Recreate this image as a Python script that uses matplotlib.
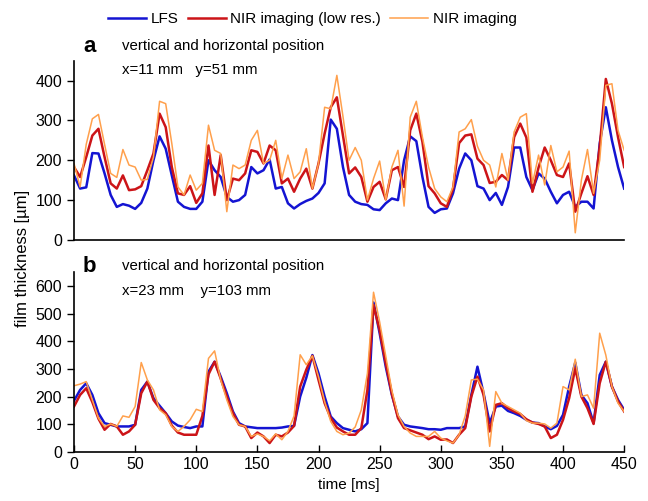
import numpy as np
import matplotlib
matplotlib.use("Agg")
import matplotlib.pyplot as plt

plt.rcParams['font.family'] = ['Liberation Sans', 'DejaVu Sans']

# tiempo [ms], muestreo cada 5 ms
tiempo = np.arange(0, 451, 5)

# Panel a: x=11 mm, y=51 mm
lfs_a = [162, 129, 132, 218, 217, 167, 113, 83, 90, 86, 78, 93, 129, 200, 260, 229, 162, 96, 83, 78,
         78, 96, 200, 175, 158, 108, 96, 100, 113, 183, 167, 175, 202, 129, 133, 92, 79, 90, 98, 104,
         118, 142, 302, 279, 183, 113, 96, 90, 88, 77, 75, 92, 104, 100, 200, 260, 248, 158, 83, 68,
         77, 79, 117, 179, 217, 200, 135, 129, 100, 118, 88, 133, 232, 232, 158, 125, 167, 154, 121, 92,
         113, 121, 83, 96, 96, 79, 242, 333, 250, 183, 129]
nir_low_a = [183, 158, 208, 262, 279, 208, 142, 129, 162, 125, 127, 135, 175, 217, 317, 283, 183, 117, 113, 135,
             93, 117, 237, 113, 213, 100, 154, 150, 167, 225, 221, 192, 237, 225, 142, 154, 121, 154, 179, 129,
             192, 267, 333, 358, 262, 167, 182, 158, 96, 133, 146, 102, 175, 183, 133, 275, 317, 246, 135, 117,
             92, 83, 129, 243, 262, 265, 204, 188, 143, 146, 163, 150, 258, 292, 257, 121, 182, 232, 200, 163,
             158, 192, 71, 117, 160, 113, 233, 404, 342, 258, 183]
nir_a = [192, 133, 240, 304, 315, 240, 167, 157, 227, 188, 183, 150, 152, 208, 348, 342, 242, 133, 113, 163,
         125, 142, 288, 225, 217, 71, 188, 179, 188, 250, 275, 192, 200, 250, 154, 213, 154, 171, 229, 129,
         192, 333, 329, 413, 310, 200, 232, 200, 100, 154, 198, 100, 183, 225, 85, 308, 348, 258, 183, 129,
         108, 96, 133, 271, 279, 302, 235, 200, 188, 133, 217, 150, 271, 308, 317, 142, 213, 138, 237, 171,
         183, 223, 18, 150, 227, 117, 200, 388, 392, 275, 225]

# Panel b: x=23 mm, y=103 mm
lfs_b = [185, 224, 248, 206, 140, 104, 98, 92, 92, 92, 98, 224, 254, 194, 167, 140, 110, 95, 90, 86,
         92, 92, 290, 326, 272, 212, 146, 104, 92, 89, 86, 86, 86, 86, 88, 92, 94, 200, 268, 350,
         284, 200, 128, 104, 86, 80, 74, 82, 104, 540, 429, 308, 206, 128, 98, 92, 89, 86, 82, 82,
         80, 86, 86, 86, 92, 206, 308, 212, 104, 164, 167, 148, 140, 130, 116, 106, 104, 92, 82, 94,
         134, 236, 323, 206, 176, 104, 278, 326, 236, 188, 152]
nir_low_b = [164, 206, 230, 180, 120, 80, 101, 92, 62, 74, 98, 212, 254, 188, 158, 140, 95, 70, 62, 62,
             62, 130, 280, 326, 265, 200, 140, 98, 92, 50, 70, 56, 32, 62, 56, 70, 94, 236, 297, 347,
             260, 176, 122, 88, 74, 62, 62, 86, 224, 531, 440, 320, 210, 122, 86, 78, 70, 62, 46, 56,
             44, 45, 32, 62, 86, 200, 272, 206, 74, 170, 176, 158, 146, 137, 118, 106, 101, 92, 50, 62,
             116, 194, 302, 200, 158, 101, 248, 326, 236, 182, 146]
nir_b = [239, 245, 254, 188, 122, 92, 101, 92, 130, 125, 164, 323, 260, 224, 152, 134, 92, 74, 92, 116,
         154, 146, 338, 365, 260, 188, 128, 98, 92, 56, 65, 56, 40, 65, 44, 74, 130, 351, 315, 347,
         272, 182, 110, 74, 62, 68, 90, 152, 284, 577, 470, 346, 222, 134, 92, 68, 56, 56, 56, 74,
         50, 40, 32, 62, 130, 260, 263, 224, 20, 218, 176, 164, 152, 140, 113, 104, 104, 101, 86, 104,
         236, 224, 335, 200, 206, 158, 429, 350, 236, 176, 146]

etiquetas = ['LFS', 'NIR imaging (low res.)', 'NIR imaging']
colores = ['#1414d2', '#cc1418', '#ffa04c']
grosores = [1.8, 1.8, 1.1]

fig = plt.figure(figsize=(6.48, 5.01), dpi=100)
ax_a = fig.add_axes([0.1142, 0.521, 0.849, 0.358])
ax_b = fig.add_axes([0.1142, 0.098, 0.849, 0.359])

for serie, etiqueta, color, lw in zip([lfs_a, nir_low_a, nir_a], etiquetas, colores, grosores):
    ax_a.plot(tiempo, serie, color=color, lw=lw, label=etiqueta)
for serie, color, lw in zip([lfs_b, nir_low_b, nir_b], colores, grosores):
    ax_b.plot(tiempo, serie, color=color, lw=lw)

for ax in [ax_a, ax_b]:
    ax.spines['top'].set_visible(False)
    ax.spines['right'].set_visible(False)
    ax.spines['left'].set_linewidth(1.2)
    ax.spines['bottom'].set_linewidth(1.2)
    ax.set_xlim(0, 450)
    ax.tick_params(labelsize=11.5, width=1.0, length=5)

ax_a.set_ylim(0, 450)
ax_a.set_yticks([0, 100, 200, 300, 400])
ax_a.set_xticks([])
ax_a.tick_params(axis='y', direction='out')

ax_b.set_ylim(0, 650)
ax_b.set_yticks([0, 100, 200, 300, 400, 500, 600])
ax_b.set_xticks(np.arange(0, 451, 50))
ax_b.tick_params(axis='x', direction='in', pad=4)
ax_b.tick_params(axis='y', direction='out')
ax_b.set_xlabel('time [ms]', fontsize=11)

fig.text(0.034, 0.485, 'film thickness [µm]', rotation=90, fontsize=12, ha='center', va='center')

# textos de cada panel
fig.text(0.128, 0.897, 'a', fontsize=16, fontweight='bold', ha='left', va='baseline')
fig.text(0.188, 0.901, 'vertical and horizontal position', fontsize=10.8, va='baseline')
fig.text(0.188, 0.853, 'x=11 mm   y=51 mm', fontsize=10.8, va='baseline')
fig.text(0.128, 0.457, 'b', fontsize=16, fontweight='bold', ha='left', va='baseline')
fig.text(0.188, 0.462, 'vertical and horizontal position', fontsize=10.8, va='baseline')
fig.text(0.188, 0.412, 'x=23 mm    y=103 mm', fontsize=10.8, va='baseline')

fig.legend(loc='upper center', bbox_to_anchor=(0.482, 1.003), ncol=3, frameon=False,
           fontsize=11, handlelength=2.5, handletextpad=0.3, columnspacing=0.6)

fig.savefig('out.png', dpi=100)
